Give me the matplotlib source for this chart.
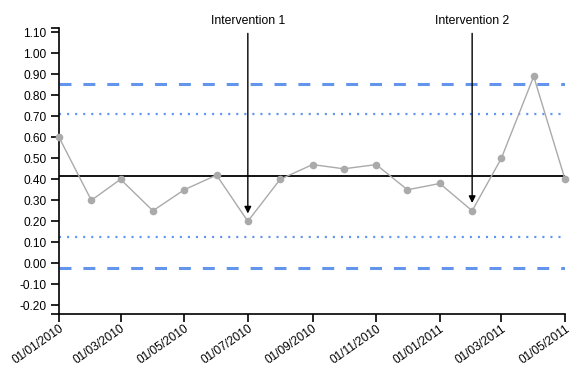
import datetime as dt
import matplotlib
matplotlib.use("Agg")
import matplotlib.pyplot as plt
import matplotlib.dates as mdates
import matplotlib.transforms as mtransforms

plt.rcParams["font.family"] = ["Liberation Sans", "DejaVu Sans"]
plt.rcParams["lines.scale_dashes"] = False

# monthly series, Jan 2010 .. May 2011
months = [dt.date(2010 + (m // 12), m % 12 + 1, 1) for m in range(17)]
values = [0.60, 0.30, 0.40, 0.25, 0.35, 0.42, 0.20, 0.40, 0.47, 0.45,
          0.47, 0.35, 0.38, 0.25, 0.50, 0.89, 0.40]

center_line = 0.417
upper_3s, lower_3s = 0.855, -0.022
upper_2s, lower_2s = 0.709, 0.124

interventions = [("Intervention 1", 6), ("Intervention 2", 13)]

y_ticks = [round(-0.2 + 0.1 * i, 2) for i in range(14)]
x_ticks = months[::2]

fig = plt.figure(figsize=(5.87, 3.69), dpi=100)
ax = fig.add_axes([59 / 587, 1 - 314.3 / 369, 506 / 587, 286.6 / 369])

x0, x1 = months[0], months[-1]
blue = "#6495ED"
ax.plot([x0, x1], [upper_3s, upper_3s], color=blue, lw=2.2, dashes=(8.6, 8.6))
ax.plot([x0, x1], [lower_3s, lower_3s], color=blue, lw=2.2, dashes=(8.6, 8.6))
ax.plot([x0, x1], [upper_2s, upper_2s], color=blue, lw=1.6, dashes=(1.5, 4.3))
ax.plot([x0, x1], [lower_2s, lower_2s], color=blue, lw=1.6, dashes=(1.5, 4.3))
ax.plot([x0, x1], [center_line, center_line], color="black", lw=1.3)

ax.plot(months, values, color="#aaaaaa", lw=1, marker="o", markersize=5.5,
        markeredgewidth=0, clip_on=False, zorder=3)

for label, idx in interventions:
    d = months[idx]
    ax.annotate("", xy=(d, values[idx] + 0.037), xytext=(d, 1.095),
                arrowprops=dict(arrowstyle="-|>", color="black", lw=1,
                                mutation_scale=10, shrinkA=0, shrinkB=0),
                annotation_clip=False, zorder=4)
    ax.text(d, 1.127, label, ha="center", va="bottom", fontsize=8.8,
            clip_on=False)

ax.set_xlim(x0, x1)
ax.set_ylim(-0.243, 1.122)
ax.set_yticks(y_ticks)
ax.set_yticklabels([f"{v:.2f}" for v in y_ticks])
ax.set_yticks([-0.243, 1.122], minor=True)
ax.set_xticks(x_ticks)
ax.xaxis.set_major_formatter(mdates.DateFormatter("%d/%m/%Y"))
shift = mtransforms.ScaledTranslation(-2 / 100, 0, fig.dpi_scale_trans)
for lab in ax.get_xticklabels():
    lab.set_rotation(35)
    lab.set_ha("right")
    lab.set_va("top")
    lab.set_rotation_mode("anchor")
    lab.set_transform(lab.get_transform() + shift)

ax.tick_params(axis="both", which="both", length=6, width=1.2, color="black",
               labelsize=8.6, direction="out", pad=3)
ax.tick_params(axis="x", pad=0)
ax.tick_params(axis="y", which="minor", labelleft=False)

for s in ["top", "right"]:
    ax.spines[s].set_visible(False)
for s in ["left", "bottom"]:
    ax.spines[s].set_linewidth(1.2)
    ax.spines[s].set_color("black")

fig.savefig("out.png", dpi=100)
